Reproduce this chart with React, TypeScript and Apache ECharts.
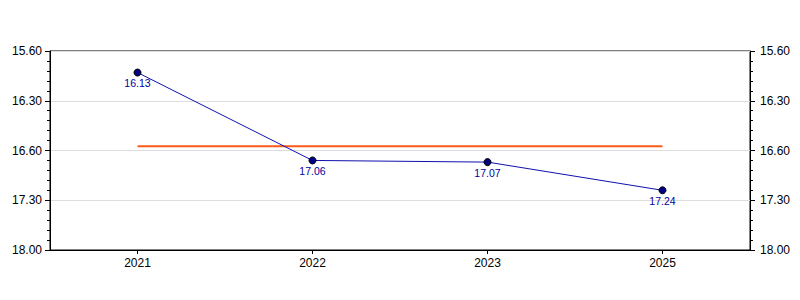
import React, { useEffect, useRef } from "react";
import * as echarts from "echarts";

const categories = ["2021", "2022", "2023", "2025"];
// values as minutes.seconds (mm.ss)
const timeValues = ["16.13", "17.06", "17.07", "17.24"];
// y axis tick labels (top to bottom), ticks every 30 s from 16:00 to 18:00
const tickLabels = ["15.60", "16.30", "16.60", "17.30", "18.00"];
const axisMinSec = 960;
const axisMaxSec = 1080;
const tickStepSec = 30;

const toSeconds = (s: string) => {
  const [m, sec] = s.split(".");
  return parseInt(m, 10) * 60 + parseInt(sec, 10);
};

const seconds = timeValues.map(toSeconds);
const averageSec = seconds.reduce((a, b) => a + b, 0) / seconds.length;
const averageLine = categories.map(() => averageSec);

const FONT = "Liberation Sans, Arial, sans-serif";

export default function App() {
  const ref = useRef<HTMLDivElement>(null);
  useEffect(() => {
    document.body.style.margin = "0";
    if (!ref.current) return;
    const chart = echarts.init(ref.current, undefined, { renderer: "svg" });
    const yLabel = (v: number) => {
      const idx = Math.round((v - axisMinSec) / tickStepSec);
      return tickLabels[idx] ?? "";
    };
    const yAxisBase = {
      type: "value" as const,
      inverse: true,
      min: axisMinSec,
      max: axisMaxSec,
      interval: tickStepSec,
      axisLine: { show: true, lineStyle: { color: "#000", width: 1 } },
      axisTick: { show: true, length: 5, lineStyle: { color: "#000" } },
      minorTick: { show: true, splitNumber: 5, length: 3, lineStyle: { color: "#000" } },
      axisLabel: { formatter: yLabel, color: "#000", fontSize: 12, fontFamily: FONT },
    };
    chart.setOption({
      animation: false,
      backgroundColor: "#fff",
      grid: {
        left: 50,
        right: 50,
        top: 51,
        bottom: 50,
        show: true,
        borderColor: "#000",
        borderWidth: 1,
        backgroundColor: "transparent",
      },
      xAxis: {
        type: "category",
        data: categories,
        boundaryGap: true,
        axisLine: { show: true, lineStyle: { color: "#000" } },
        axisTick: { show: true, alignWithLabel: true, length: 4, lineStyle: { color: "#000" } },
        axisLabel: { color: "#000", fontSize: 12, fontFamily: FONT, margin: 7 },
        splitLine: { show: false },
      },
      yAxis: [
        {
          ...yAxisBase,
          position: "left",
          axisLabel: { ...yAxisBase.axisLabel, margin: 8 },
          splitLine: { show: true, lineStyle: { color: "#dddddd", width: 1 } },
        },
        {
          ...yAxisBase,
          position: "right",
          axisLabel: { ...yAxisBase.axisLabel, margin: 10 },
          splitLine: { show: false },
        },
      ],
      series: [
        {
          name: "average",
          type: "line",
          data: averageLine,
          symbol: "none",
          lineStyle: { color: "#ff5a1a", width: 2 },
          silent: true,
          z: 2,
        },
        {
          name: "time",
          type: "line",
          data: seconds,
          symbol: "circle",
          symbolSize: 7,
          itemStyle: { color: "#000080", borderColor: "#000", borderWidth: 1 },
          lineStyle: { color: "#1010b0", width: 1 },
          label: {
            show: true,
            position: "bottom",
            distance: 1,
            color: "#0000a0",
            fontSize: 10.5,
            fontFamily: FONT,
            formatter: (p: any) => timeValues[p.dataIndex],
          },
          z: 3,
        },
      ],
    });
    return () => chart.dispose();
  }, []);
  return (
    <div
      ref={ref}
      style={{ position: "absolute", left: 0, top: 0, width: 800, height: 300 }}
    />
  );
}
